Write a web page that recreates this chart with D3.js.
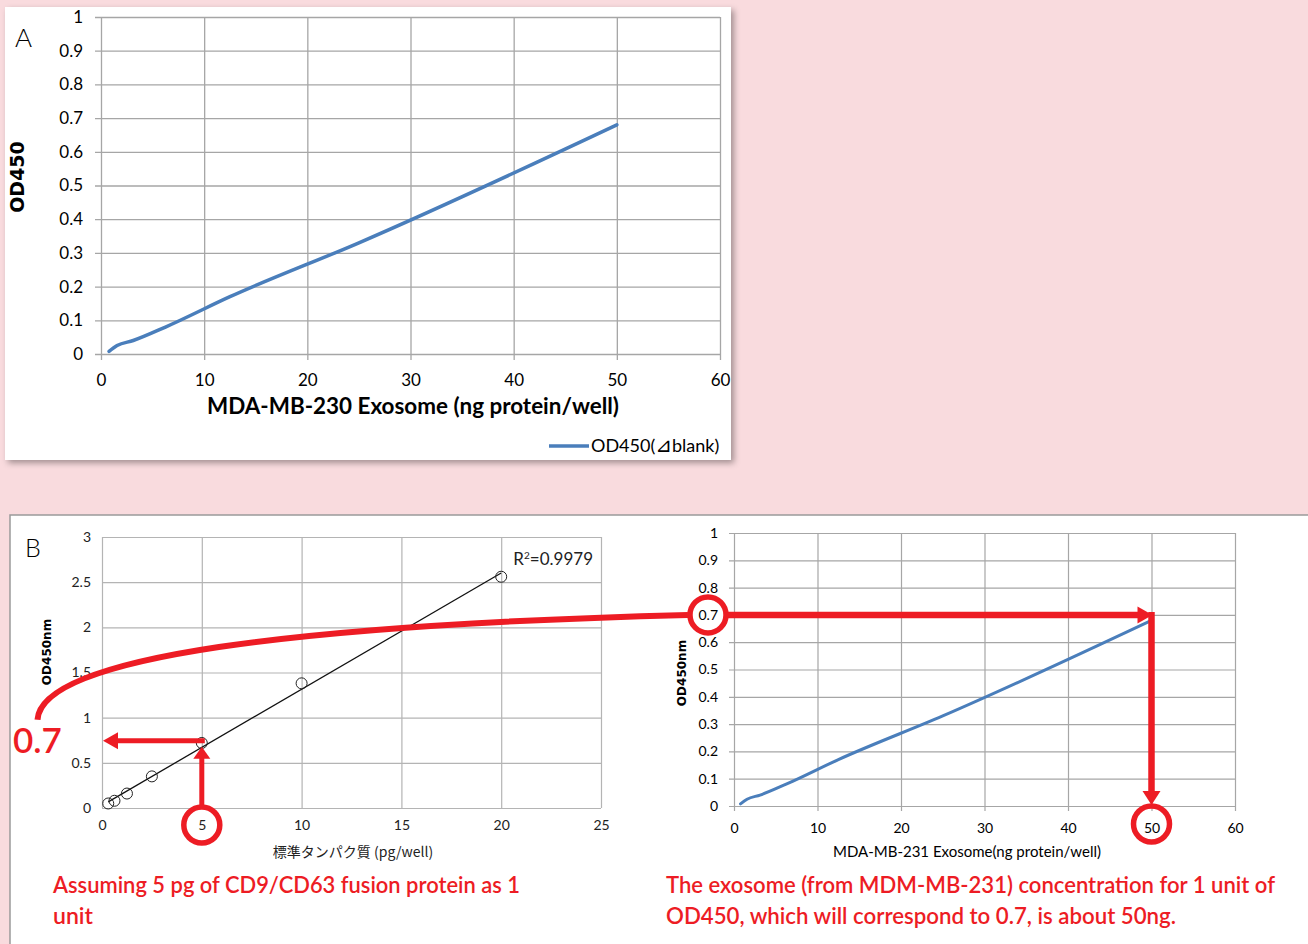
<!DOCTYPE html>
<html>
<head>
<meta charset="utf-8">
<script src="https://cdn.jsdelivr.net/npm/d3@7"></script>
<style>
  body { margin: 0; background: #f9dbde; }
  svg { display: block; }
</style>
</head>
<body>
<svg id="chart" width="1308" height="944"></svg>
<script>
// exosome dilution curve (panel A and panel B right)
var exoNg = [0.78, 1.56, 3.125, 6.25, 12.5, 25, 50];
var exoOD = [0.008, 0.025, 0.04, 0.08, 0.17, 0.33, 0.68];

// standard protein curve (panel B left)
var stdPg = [0.3125, 0.625, 1.25, 2.5, 5, 10, 20];
var stdOD = [0.05, 0.08, 0.16, 0.35, 0.72, 1.38, 2.56];
var rSquared = '0.9979';

// ticks
var odTicks = [0, 0.1, 0.2, 0.3, 0.4, 0.5, 0.6, 0.7, 0.8, 0.9, 1];
var ngTicks = [0, 10, 20, 30, 40, 50, 60];
var pgTicks = [0, 5, 10, 15, 20, 25];
var stdOdTicks = [0, 0.5, 1, 1.5, 2, 2.5, 3];

// reading of the red arrows
var unitPg = 5;
var stdReadOD = 0.745;
var unitOD = 0.7;
var unitNg = 50;

function buildFigure() {
  var svg = d3.select('#chart');
  var red = '#ed1c24';
  var blue = '#4a7ebb';
  var fmt = d3.format('~g');

  var filter = svg.append('defs').append('filter')
    .attr('id', 'shadow')
    .attr('x', '-5%').attr('y', '-5%')
    .attr('width', '115%').attr('height', '115%');
  filter.append('feDropShadow')
    .attr('dx', 3).attr('dy', 3)
    .attr('stdDeviation', 3)
    .attr('flood-color', '#000')
    .attr('flood-opacity', 0.35);

  //panel boxes
  svg.append('rect')
    .attr('x', 5).attr('y', 7)
    .attr('width', 726).attr('height', 453)
    .style('fill', 'white')
    .attr('filter', 'url(#shadow)');
  svg.append('rect')
    .attr('x', 10).attr('y', 515)
    .attr('width', 1320).attr('height', 450)
    .style('fill', 'white')
    .style('stroke', '#9a9a9a')
    .style('stroke-width', 1.5);

  // axis helper: gridlines come from the tick lines
  function drawAxes(g, x, y, xTicks, yTicks, o) {
    var w = x.range()[1] - x.range()[0];
    var h = y.range()[0] - y.range()[1];

    var xAxis = d3.axisBottom(x).tickValues(xTicks)
      .tickSizeInner(-h).tickSizeOuter(0)
      .tickPadding(o.xPad).tickFormat(fmt);
    var yAxis = d3.axisLeft(y).tickValues(yTicks)
      .tickSizeInner(-w).tickSizeOuter(0)
      .tickPadding(o.yPad).tickFormat(fmt);

    var gx = g.append('g')
      .attr('transform', 'translate(0,' + y.range()[0] + ')')
      .call(xAxis);
    var gy = g.append('g')
      .attr('transform', 'translate(' + x.range()[0] + ',0)')
      .call(yAxis);

    [gx, gy].forEach(function(a) {
      a.select('.domain').remove();
      a.selectAll('.tick line')
        .style('stroke', o.grid)
        .style('stroke-width', o.gridWidth);
      a.selectAll('.tick text')
        .style('font-family', 'Lato, sans-serif')
        .style('font-size', o.font + 'px')
        .style('fill', o.textColor);
    });
    gx.selectAll('.tick line').attr('y1', o.tick);
    gy.selectAll('.tick line').attr('x1', -o.tick);
  }

  var idx = d3.range(exoNg.length);

  //---------------- Panel A
  var xA = d3.scaleLinear().domain([0, 60]).range([101, 720]);
  var yA = d3.scaleLinear().domain([0, 1]).range([354, 17]);
  var panelA = svg.append('g').attr('id', 'panelA');

  drawAxes(panelA, xA, yA, ngTicks, odTicks, {
    xPad: 20, yPad: 18, tick: 6, grid: '#a6a6a6', gridWidth: 1.3,
    font: 17, textColor: '#000'
  });

  var lineA = d3.line()
    .x(function(i) { return xA(exoNg[i]); })
    .y(function(i) { return yA(exoOD[i]); })
    .curve(d3.curveMonotoneX);

  panelA.append('path')
    .attr('d', lineA(idx))
    .style('fill', 'none')
    .style('stroke', blue)
    .style('stroke-width', 3.5)
    .style('stroke-linecap', 'round');

  panelA.append('text')
    .attr('x', 15).attr('y', 47)
    .text('A')
    .style('font-family', 'Lato, sans-serif')
    .style('font-weight', 300)
    .style('font-size', '26px');

  panelA.append('text')
    .attr('transform', 'translate(24,177) rotate(-90)')
    .attr('text-anchor', 'middle')
    .text('OD450')
    .style('font-family', 'DejaVu Sans, sans-serif')
    .style('font-weight', 'bold')
    .style('font-size', '19px');

  panelA.append('text')
    .attr('x', 413).attr('y', 414)
    .attr('text-anchor', 'middle')
    .attr('textLength', 412)
    .attr('lengthAdjust', 'spacingAndGlyphs')
    .text('MDA-MB-230 Exosome (ng protein/well)')
    .style('font-family', 'Lato, sans-serif')
    .style('font-weight', 'bold')
    .style('font-size', '22px');

  //legend
  panelA.append('line')
    .attr('x1', 549).attr('x2', 589)
    .attr('y1', 446).attr('y2', 446)
    .style('stroke', blue)
    .style('stroke-width', 3.5);
  var legText = panelA.append('text')
    .attr('x', 591).attr('y', 452)
    .style('font-family', 'Lato, sans-serif')
    .style('font-size', '18px');
  legText.append('tspan').text('OD450(');
  legText.append('tspan')
    .style('font-family', 'DejaVu Sans, sans-serif')
    .style('font-size', '20px')
    .text('⊿');
  legText.append('tspan').text('blank)');

  //---------------- Panel B left
  var xBL = d3.scaleLinear().domain([0, 25]).range([102, 601]);
  var yBL = d3.scaleLinear().domain([0, 3]).range([808, 537]);
  var panelBL = svg.append('g').attr('id', 'panelBL');

  drawAxes(panelBL, xBL, yBL, pgTicks, stdOdTicks, {
    xPad: 12, yPad: 11, tick: 0, grid: '#b4b4b4', gridWidth: 1.2,
    font: 14, textColor: '#222'
  });

  //least squares trendline
  var mx = d3.mean(stdPg), my = d3.mean(stdOD);
  var sxy = d3.sum(stdPg, function(v, i) { return (v - mx) * (stdOD[i] - my); });
  var sxx = d3.sum(stdPg, function(v) { return (v - mx) * (v - mx); });
  var slope = sxy / sxx, icpt = my - slope * mx;
  var trendX = d3.extent(stdPg);

  panelBL.append('path')
    .attr('d', d3.line()(trendX.map(function(v) {
      return [xBL(v), yBL(icpt + slope * v)];
    })))
    .style('stroke', '#111')
    .style('stroke-width', 1.3);

  panelBL.selectAll('circle.pt')
    .data(d3.range(stdPg.length))
    .enter()
    .append('circle')
    .attr('class', 'pt')
    .attr('cx', function(i) { return xBL(stdPg[i]); })
    .attr('cy', function(i) { return yBL(stdOD[i]); })
    .attr('r', 5.5)
    .style('fill', 'none')
    .style('stroke', '#222')
    .style('stroke-width', 1);

  var r2 = panelBL.append('text')
    .attr('x', 593).attr('y', 565)
    .attr('text-anchor', 'end')
    .style('font-family', 'Lato, sans-serif')
    .style('font-size', '17px')
    .style('fill', '#222');
  r2.append('tspan').text('R');
  r2.append('tspan').attr('dy', -6).style('font-size', '10px').text('2');
  r2.append('tspan').attr('dy', 6).text('=' + rSquared);

  panelBL.append('text')
    .attr('x', 25).attr('y', 557)
    .text('B')
    .style('font-family', 'Lato, sans-serif')
    .style('font-weight', 300)
    .style('font-size', '25px');

  panelBL.append('text')
    .attr('transform', 'translate(51,652) rotate(-90)')
    .attr('text-anchor', 'middle')
    .text('OD450nm')
    .style('font-family', 'DejaVu Sans, sans-serif')
    .style('font-weight', 'bold')
    .style('font-size', '12px');

  panelBL.append('text')
    .attr('x', 353).attr('y', 857)
    .attr('text-anchor', 'middle')
    .text('標準タンパク質 (pg/well)')
    .style('font-family', '"Noto Sans CJK JP", sans-serif')
    .style('font-size', '14px')
    .style('fill', '#222');

  //---------------- Panel B right
  var xBR = d3.scaleLinear().domain([0, 60]).range([734, 1235]);
  var yBR = d3.scaleLinear().domain([0, 1]).range([806, 533]);
  var panelBR = svg.append('g').attr('id', 'panelBR');

  drawAxes(panelBR, xBR, yBR, ngTicks, odTicks, {
    xPad: 17, yPad: 16, tick: 5, grid: '#a6a6a6', gridWidth: 1.2,
    font: 14, textColor: '#000'
  });

  var lineBR = d3.line()
    .x(function(i) { return xBR(exoNg[i]); })
    .y(function(i) { return yBR(exoOD[i]); })
    .curve(d3.curveMonotoneX);

  panelBR.append('path')
    .attr('d', lineBR(idx))
    .style('fill', 'none')
    .style('stroke', blue)
    .style('stroke-width', 3)
    .style('stroke-linecap', 'round');

  panelBR.append('text')
    .attr('transform', 'translate(686,673) rotate(-90)')
    .attr('text-anchor', 'middle')
    .text('OD450nm')
    .style('font-family', 'DejaVu Sans, sans-serif')
    .style('font-weight', 'bold')
    .style('font-size', '12px');

  panelBR.append('text')
    .attr('x', 967).attr('y', 857)
    .attr('text-anchor', 'middle')
    .text('MDA-MB-231 Exosome(ng protein/well)')
    .style('font-family', 'Lato, sans-serif')
    .style('font-size', '15px');

  //---------------- Red annotations
  var notes = svg.append('g').attr('id', 'notes');
  var tri = d3.line();

  function redLine(x1, y1, x2, y2, w) {
    notes.append('line')
      .attr('x1', x1).attr('y1', y1)
      .attr('x2', x2).attr('y2', y2)
      .style('stroke', red)
      .style('stroke-width', w);
  }
  function redHead(pts) {
    notes.append('path')
      .attr('d', tri(pts) + 'Z')
      .style('fill', red);
  }
  function redRing(cx, cy) {
    notes.append('circle')
      .attr('cx', cx).attr('cy', cy)
      .attr('r', 18)
      .style('fill', 'none')
      .style('stroke', red)
      .style('stroke-width', 5.5);
  }

  // left: 5 pg -> OD
  var hy = yBL(stdReadOD);
  var px = xBL(unitPg);
  var ringLY = yBL(0) + 17;
  redLine(xBL(0) + 15, hy, px + 3, hy, 5);
  redHead([[xBL(0) + 1, hy], [xBL(0) + 16, hy - 8.5], [xBL(0) + 16, hy + 8.5]]);
  redLine(px, ringLY - 18, px, hy + 16, 5);
  redHead([[px, hy + 6], [px - 8.5, hy + 18], [px + 8.5, hy + 18]]);
  redRing(px, ringLY);

  notes.append('text')
    .attr('x', 37.5).attr('y', hy + 12.5)
    .attr('text-anchor', 'middle')
    .text(fmt(unitOD))
    .style('font-family', 'Lato, sans-serif')
    .style('font-weight', 600)
    .style('font-size', '35px')
    .style('fill', red);

  // right: OD 0.7 -> 50 ng
  var ry = yBR(unitOD);
  var ringRX = xBR(0) - 26;
  var nx = xBR(unitNg);
  var ringBY = yBR(0) + 18;
  redLine(ringRX + 18, ry, nx - 12, ry, 6.5);
  redHead([[nx + 1, ry], [nx - 14, ry - 8.5], [nx - 14, ry + 8.5]]);
  redLine(nx, ry - 3, nx, yBR(0) - 13, 6.5);
  redHead([[nx, yBR(0) - 1], [nx - 9, yBR(0) - 15], [nx + 9, yBR(0) - 15]]);
  redRing(ringRX, ry);
  redRing(nx, ringBY);

  // connector from the 0.7 label to the 0.7 tick
  var p = d3.path();
  p.moveTo(37.5, hy - 21);
  p.bezierCurveTo(42, hy - 85, 300, ry + 10, ringRX - 20, ry);
  notes.append('path')
    .attr('d', p.toString())
    .style('fill', 'none')
    .style('stroke', red)
    .style('stroke-width', 6);

  //captions: x, baseline, width, text
  var captions = [
    [53, 893, 467, 'Assuming 5 pg of CD9/CD63 fusion protein as 1'],
    [53, 924, 40, 'unit'],
    [666, 893, 609, 'The exosome (from MDM-MB-231) concentration for 1 unit of'],
    [666, 924, 510, 'OD450, which will correspond to 0.7, is about 50ng.']
  ];
  notes.selectAll('text.cap')
    .data(captions)
    .enter()
    .append('text')
    .attr('class', 'cap')
    .attr('x', function(d) { return d[0]; })
    .attr('y', function(d) { return d[1]; })
    .attr('textLength', function(d) { return d[2]; })
    .attr('lengthAdjust', 'spacingAndGlyphs')
    .text(function(d) { return d[3]; })
    .style('font-family', 'Lato, sans-serif')
    .style('font-weight', 600)
    .style('font-size', '22px')
    .style('fill', red);
}

buildFigure();
</script>
</body>
</html>
